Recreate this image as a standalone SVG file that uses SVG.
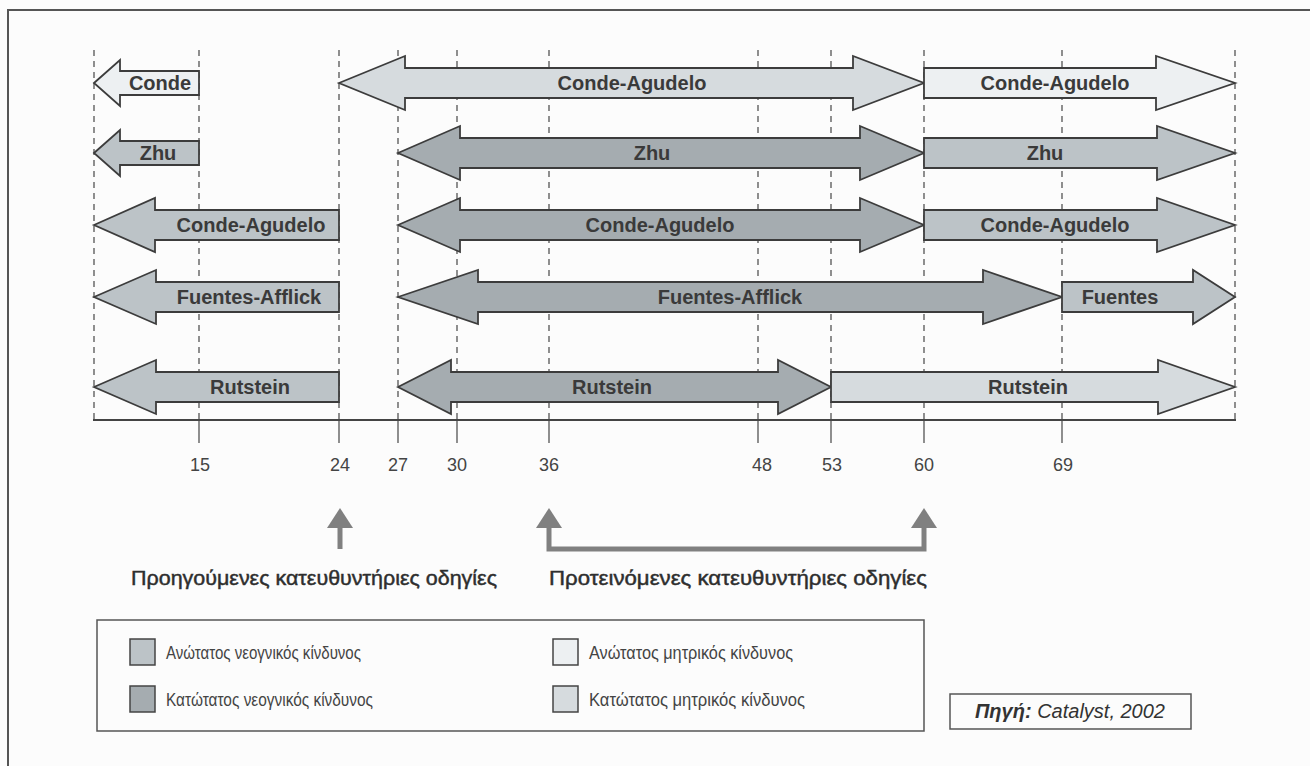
<svg xmlns="http://www.w3.org/2000/svg" width="1310" height="766" viewBox="0 0 1310 766">
<style>
.bg{fill:#fcfcfc}
.frame{fill:none;stroke:#555;stroke-width:2}
.grid{stroke:#555;stroke-width:1.3;stroke-dasharray:6 5;fill:none}
.tick{stroke:#555;stroke-width:1.3}
.axis{stroke:#444;stroke-width:2;fill:none}
.arr{stroke:#3c3c3c;stroke-width:1.8;stroke-linejoin:miter}
.umax{fill:#edf0f2}
.umin{fill:#d6dbde}
.nmax{fill:#bcc3c7}
.nmin{fill:#a5acb0}
.lbl{font-family:"Liberation Sans",Arial,sans-serif;font-weight:bold;font-size:20px;fill:#3a3a3a;text-anchor:middle}
.num{font-family:"Liberation Sans",Arial,sans-serif;font-size:18px;fill:#444;text-anchor:middle}
.ttl{font-family:"Liberation Sans",Arial,sans-serif;font-size:20px;fill:#2e2e2e;stroke:#2e2e2e;stroke-width:0.45}
.leg{font-family:"Liberation Sans",Arial,sans-serif;font-size:18.5px;fill:#444}
.box{fill:none;stroke:#555;stroke-width:1.5}
.sq{stroke:#444;stroke-width:1.5}
.up{fill:#808080}
.src{font-family:"Liberation Sans",Arial,sans-serif;font-size:20px;font-style:italic;fill:#333;text-anchor:middle}
</style>
<rect class="bg" x="0" y="0" width="1310" height="766"/>
<path class="frame" d="M8,766 V10 H1310"/>

<g id="axis">
  <line class="grid" x1="94" y1="50" x2="94" y2="420"/>
  <line class="grid" x1="199" y1="50" x2="199" y2="420"/>
  <line class="grid" x1="339" y1="50" x2="339" y2="420"/>
  <line class="grid" x1="398" y1="50" x2="398" y2="420"/>
  <line class="grid" x1="457" y1="50" x2="457" y2="420"/>
  <line class="grid" x1="549" y1="50" x2="549" y2="420"/>
  <line class="grid" x1="758" y1="50" x2="758" y2="420"/>
  <line class="grid" x1="831" y1="50" x2="831" y2="420"/>
  <line class="grid" x1="924" y1="50" x2="924" y2="420"/>
  <line class="grid" x1="1062" y1="50" x2="1062" y2="420"/>
  <line class="grid" x1="1235" y1="50" x2="1235" y2="420"/>
  <path class="tick" d="M199,420V443M339,420V443M398,420V443M457,420V443M549,420V443M758,420V443M831,420V443M924,420V443M1062,420V443"/>
  <line class="axis" x1="93" y1="420" x2="1236" y2="420"/>
  <text class="num" x="200" y="471">15</text>
  <text class="num" x="340" y="471">24</text>
  <text class="num" x="398" y="471">27</text>
  <text class="num" x="457" y="471">30</text>
  <text class="num" x="549" y="471">36</text>
  <text class="num" x="762" y="471">48</text>
  <text class="num" x="832" y="471">53</text>
  <text class="num" x="924" y="471">60</text>
  <text class="num" x="1063" y="471">69</text>
</g>

<!-- Row 1 -->
<g id="r1-conde">
  <path class="arr umax" d="M94,83 L120,60 L120,71 L199,71 L199,95 L120,95 L120,106 Z"/>
  <text class="lbl" x="160" y="90">Conde</text>
</g>
<g id="r1-conde-agudelo">
  <path class="arr umin" d="M339,83 L405,56 L405,68 L853,68 L853,56 L924,83 L853,110 L853,98 L405,98 L405,110 Z"/>
  <text class="lbl" x="632" y="90">Conde-Agudelo</text>
</g>
<g id="r1-conde-agudelo-r">
  <path class="arr umax" d="M924,68 L1156,68 L1156,56 L1235,83 L1156,110 L1156,98 L924,98 Z"/>
  <text class="lbl" x="1055" y="90">Conde-Agudelo</text>
</g>

<!-- Row 2 -->
<g id="r2-zhu">
  <path class="arr nmax" d="M94,153 L120,130 L120,141 L199,141 L199,165 L120,165 L120,176 Z"/>
  <text class="lbl" x="158" y="160">Zhu</text>
</g>
<g id="r2-zhu-mid">
  <path class="arr nmin" d="M398,153 L460,126 L460,138 L860,138 L860,126 L924,153 L860,180 L860,168 L460,168 L460,180 Z"/>
  <text class="lbl" x="652" y="160">Zhu</text>
</g>
<g id="r2-zhu-r">
  <path class="arr nmax" d="M924,138 L1157,138 L1157,126 L1235,153 L1157,180 L1157,168 L924,168 Z"/>
  <text class="lbl" x="1045" y="160">Zhu</text>
</g>

<!-- Row 3 -->
<g id="r3-conde-agudelo-l">
  <path class="arr nmax" d="M94,225 L155,198 L155,210 L339,210 L339,240 L155,240 L155,252 Z"/>
  <text class="lbl" x="251" y="232">Conde-Agudelo</text>
</g>
<g id="r3-conde-agudelo-mid">
  <path class="arr nmin" d="M398,225 L460,198 L460,210 L860,210 L860,198 L924,225 L860,252 L860,240 L460,240 L460,252 Z"/>
  <text class="lbl" x="660" y="232">Conde-Agudelo</text>
</g>
<g id="r3-conde-agudelo-r">
  <path class="arr nmax" d="M924,210 L1157,210 L1157,198 L1235,225 L1157,252 L1157,240 L924,240 Z"/>
  <text class="lbl" x="1055" y="232">Conde-Agudelo</text>
</g>

<!-- Row 4 -->
<g id="r4-fuentes-afflick-l">
  <path class="arr nmax" d="M94,297 L156,270 L156,282 L339,282 L339,312 L156,312 L156,324 Z"/>
  <text class="lbl" x="249" y="304">Fuentes-Afflick</text>
</g>
<g id="r4-fuentes-afflick-mid">
  <path class="arr nmin" d="M398,297 L478,270 L478,282 L983,282 L983,270 L1062,297 L983,324 L983,312 L478,312 L478,324 Z"/>
  <text class="lbl" x="730" y="304">Fuentes-Afflick</text>
</g>
<g id="r4-fuentes-r">
  <path class="arr nmax" d="M1062,282 L1193,282 L1193,270 L1235,297 L1193,324 L1193,312 L1062,312 Z"/>
  <text class="lbl" x="1120" y="304">Fuentes</text>
</g>

<!-- Row 5 -->
<g id="r5-rutstein-l">
  <path class="arr nmax" d="M94,387 L156,360 L156,372 L339,372 L339,402 L156,402 L156,414 Z"/>
  <text class="lbl" x="250" y="394">Rutstein</text>
</g>
<g id="r5-rutstein-mid">
  <path class="arr nmin" d="M398,387 L451,360 L451,372 L778,372 L778,360 L831,387 L778,414 L778,402 L451,402 L451,414 Z"/>
  <text class="lbl" x="612" y="394">Rutstein</text>
</g>
<g id="r5-rutstein-r">
  <path class="arr umin" d="M831,372 L1158,372 L1158,360 L1235,387 L1158,414 L1158,402 L831,402 Z"/>
  <text class="lbl" x="1028" y="394">Rutstein</text>
</g>

<g id="connectors">
  <polygon class="up" points="327,528 340,508 353,528"/>
  <rect class="up" x="337.5" y="526" width="5" height="23"/>
  <polygon class="up" points="536,528 549,508 562,528"/>
  <polygon class="up" points="911,528 924,508 937,528"/>
  <path d="M549,526 V549 H924 V526" fill="none" stroke="#808080" stroke-width="5"/>
</g>

<g id="prev-guidelines">
  <text class="ttl" x="131" y="585" textLength="366" lengthAdjust="spacingAndGlyphs">Προηγούμενες κατευθυντήριες οδηγίες</text>
</g>
<g id="proposed-guidelines">
  <text class="ttl" x="549" y="585" textLength="378" lengthAdjust="spacingAndGlyphs">Προτεινόμενες κατευθυντήριες οδηγίες</text>
</g>

<g id="legend">
  <rect class="box" x="97" y="620" width="827" height="111"/>
  <rect class="sq nmax" x="130" y="639" width="25" height="26"/>
  <text class="leg" x="166" y="659" textLength="195" lengthAdjust="spacingAndGlyphs">Ανώτατος νεογνικός κίνδυνος</text>
  <rect class="sq nmin" x="130" y="686" width="25" height="26"/>
  <text class="leg" x="166" y="706" textLength="207" lengthAdjust="spacingAndGlyphs">Κατώτατος νεογνικός κίνδυνος</text>
  <rect class="sq umax" x="553" y="639" width="25" height="26"/>
  <text class="leg" x="589" y="659" textLength="204" lengthAdjust="spacingAndGlyphs">Ανώτατος μητρικός κίνδυνος</text>
  <rect class="sq umin" x="553" y="686" width="25" height="26"/>
  <text class="leg" x="589" y="706" textLength="216" lengthAdjust="spacingAndGlyphs">Κατώτατος μητρικός κίνδυνος</text>
</g>

<g id="source">
  <rect class="box" x="950" y="694" width="241" height="35" fill="#fcfcfc"/>
  <text class="src" x="1070" y="718"><tspan font-weight="bold">Πηγή:</tspan> Catalyst, 2002</text>
</g>
</svg>
